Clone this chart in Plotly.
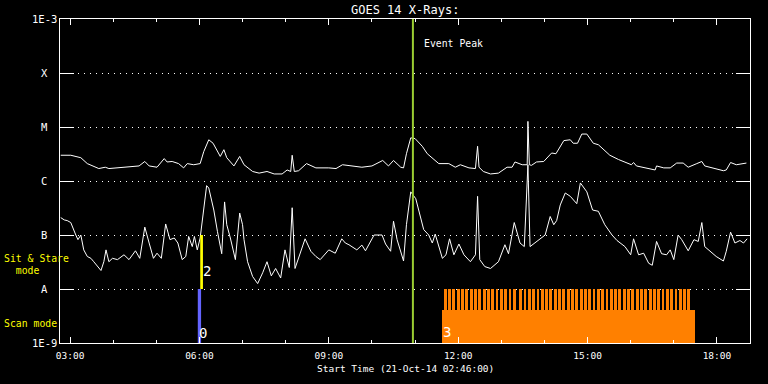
import math
import plotly.graph_objects as go
import pandas as pd

DAY = "2014-10-21"
START = "02:46"
END = "18:46"

# GOES long channel (1-8 A), W/m^2
upper_times = ["02:47","03:01","03:15","03:24","03:40","03:49","03:54","04:15","04:36","04:44","04:50","05:01","05:11","05:15","05:22","05:31","05:38","05:43","05:52","06:01","06:06","06:13","06:19","06:29","06:34","06:38","06:43","06:48","06:56","07:02","07:14","07:23","07:34","07:44","07:55","08:02","08:07","08:09","08:12","08:18","08:29","08:42","09:00","09:10","09:19","09:30","09:46","10:00","10:15","10:23","10:30","10:40","10:44","10:48","10:54","11:00","11:10","11:17","11:24","11:33","11:47","11:56","12:03","12:15","12:24","12:27","12:29","12:35","12:45","12:56","13:08","13:15","13:19","13:29","13:36","13:37","13:39","13:42","13:49","13:59","14:10","14:16","14:27","14:36","14:40","14:46","14:52","14:59","15:08","15:15","15:31","15:43","16:01","16:04","16:08","16:25","16:34","16:36","16:46","16:55","17:04","17:13","17:20","17:32","17:39","17:43","17:57","18:09","18:13","18:19","18:27","18:41"]
upper_flux = [3.0e-6,3.0e-6,2.7e-6,2.1e-6,1.7e-6,1.8e-6,1.7e-6,1.8e-6,1.9e-6,2.3e-6,1.9e-6,1.8e-6,2.6e-6,2.25e-6,2.3e-6,2.1e-6,1.75e-6,2.1e-6,2.0e-6,2.1e-6,3.5e-6,5.8e-6,5.0e-6,2.85e-6,3.8e-6,2.7e-6,2.3e-6,1.9e-6,2.85e-6,2.0e-6,1.5e-6,1.4e-6,1.5e-6,1.35e-6,1.35e-6,1.6e-6,1.5e-6,3.0e-6,1.5e-6,1.55e-6,2.1e-6,1.75e-6,1.75e-6,1.7e-6,2.0e-6,1.9e-6,1.8e-6,1.9e-6,2.4e-6,1.9e-6,2.4e-6,1.8e-6,1.75e-6,3.2e-6,6.3e-6,6.1e-6,4.4e-6,3.2e-6,2.7e-6,2.1e-6,2.1e-6,1.8e-6,2.0e-6,1.75e-6,1.7e-6,4.4e-6,1.8e-6,1.5e-6,1.35e-6,1.4e-6,1.8e-6,1.8e-6,2.25e-6,2.0e-6,2.0e-6,1.27e-5,2.0e-6,1.95e-6,2.25e-6,2.3e-6,3.3e-6,3.2e-6,5.6e-6,5.8e-6,5.0e-6,5.0e-6,7.4e-6,7.4e-6,5.0e-6,4.7e-6,3.0e-6,2.5e-6,2.0e-6,2.2e-6,1.9e-6,1.7e-6,1.6e-6,1.9e-6,1.75e-6,1.75e-6,2.15e-6,2.15e-6,1.8e-6,2.1e-6,2.3e-6,1.9e-6,1.7e-6,1.55e-6,1.6e-6,2.2e-6,2.0e-6,2.15e-6]

# GOES short channel (0.5-4 A), W/m^2
lower_times = ["02:47","02:52","02:56","03:01","03:08","03:11","03:15","03:19","03:24","03:29","03:33","03:38","03:43","03:47","03:50","03:54","03:59","04:06","04:15","04:22","04:31","04:37","04:44","04:50","04:56","05:01","05:07","05:13","05:19","05:25","05:30","05:36","05:41","05:45","05:50","05:53","05:57","06:01","06:04","06:10","06:13","06:20","06:25","06:31","06:35","06:38","06:43","06:50","06:56","07:00","07:02","07:07","07:14","07:21","07:28","07:34","07:40","07:46","07:53","07:59","08:05","08:09","08:13","08:27","08:35","08:42","08:48","09:00","09:09","09:18","09:23","09:28","09:39","09:46","09:51","10:03","10:14","10:19","10:26","10:30","10:35","10:40","10:44","10:48","10:54","11:01","11:07","11:12","11:19","11:24","11:28","11:38","11:43","11:48","11:54","12:01","12:08","12:17","12:24","12:27","12:30","12:37","12:45","12:56","13:05","13:10","13:18","13:26","13:32","13:37","13:40","13:47","14:01","14:08","14:13","14:17","14:22","14:29","14:36","14:45","14:50","14:59","15:07","15:15","15:24","15:34","15:41","15:52","16:00","16:04","16:11","16:18","16:25","16:30","16:36","16:43","16:50","16:55","17:00","17:06","17:11","17:20","17:28","17:34","17:39","17:43","17:50","17:59","18:09","18:13","18:19","18:25","18:32","18:37","18:42"]
lower_flux = [2.1e-7,1.9e-7,1.85e-7,1.7e-7,1.0e-7,8.2e-8,1.0e-7,5.3e-8,4.0e-8,3.7e-8,3.2e-8,2.6e-8,2.2e-8,3.2e-8,5.3e-8,3.2e-8,3.7e-8,3.5e-8,4.3e-8,3.5e-8,5.1e-8,3.7e-8,1.4e-7,7.1e-8,3.7e-8,4.6e-8,3.7e-8,1.6e-7,8.2e-8,8.8e-8,7.1e-8,3.5e-8,4.0e-8,9.4e-8,6.1e-8,9.4e-8,5.3e-8,8.8e-8,1.9e-7,8.2e-7,7.4e-7,2.9e-7,1.17e-7,4.5e-8,4.1e-7,1.55e-7,8.8e-8,3.5e-8,2.55e-7,1.55e-7,8.2e-8,3.2e-8,1.7e-8,1.26e-8,2.0e-8,3.2e-8,1.75e-8,2.4e-8,1.6e-8,5.3e-8,2.5e-8,3.2e-7,2.4e-8,8.5e-8,5.0e-8,4.0e-8,3.5e-8,5.3e-8,4.6e-8,8.5e-8,7.1e-8,6.6e-8,5.3e-8,6.5e-8,5.1e-8,1.0e-7,1.0e-7,6.8e-8,5.0e-8,1.8e-7,8.2e-8,4.7e-8,3.3e-8,1.55e-7,6.3e-7,4.7e-7,2.4e-7,1.26e-7,1.0e-7,7.1e-8,1.04e-7,3.7e-8,4.3e-8,8.5e-8,4.3e-8,6.8e-8,4.3e-8,3.2e-8,4.3e-8,5.2e-7,3.5e-8,2.6e-8,2.4e-8,3.2e-8,6.6e-8,4.5e-8,1.7e-7,7.1e-8,6.1e-8,2.0e-6,6.1e-8,7.1e-8,1.0e-7,2.2e-7,1.55e-7,1.85e-7,3.6e-7,6.0e-7,5.2e-7,3.8e-7,9.2e-7,6.3e-7,2.9e-7,2.75e-7,1.55e-7,1.0e-7,7.9e-8,6.1e-8,4.3e-8,8.5e-8,4.3e-8,4.6e-8,3.0e-8,2.75e-8,7.6e-8,4.5e-8,4.3e-8,5.3e-8,3.5e-8,1.0e-7,8.2e-8,5.1e-8,8.2e-8,7.6e-8,1.7e-7,6.1e-8,5.0e-8,4.0e-8,3.3e-8,5.0e-8,1.13e-7,7.1e-8,7.9e-8,7.1e-8,8.5e-8]

assert len(upper_times) == len(upper_flux), (len(upper_times), len(upper_flux))
assert len(lower_times) == len(lower_flux), (len(lower_times), len(lower_flux))

# Event / observing-mode markers
event_peak_time = "10:57"
sit_stare_time = "06:03"   # mode 2
scan_time = "06:00"        # mode 0

# Scan-mode (3) coverage blocks and raster steps
scan_block_start = ["11:38", "13:25"]
scan_block_end = ["13:24", "17:30"]
scan_block_top = 4.1e-9
spike_times = ["11:42","11:48","11:54","12:00","12:06","12:12","12:18","12:24","12:30","12:36","12:42","12:48","12:54","13:00","13:06","13:12","13:18",
               "13:27","13:33","13:39","13:45","13:51","13:57","14:03","14:09","14:15","14:21","14:27","14:33","14:39","14:45","14:51","14:57",
               "15:03","15:09","15:15","15:21","15:27","15:33","15:39","15:45","15:51","15:57","16:03","16:09","16:15","16:21","16:27","16:33",
               "16:39","16:45","16:51","16:57","17:03","17:09","17:15","17:21"]
spike_top = 1e-8

# Axis labels
y_tick_vals = [1e-3, 1e-4, 1e-5, 1e-6, 1e-7, 1e-8, 1e-9]
y_tick_text = ["1E-3", "X", "M", "C", "B", "A", "1E-9"]
YMIN, YMAX = 1e-9, 1e-3


def ts(hhmm):
    return pd.Timestamp(f"{DAY} {hhmm}")


def ly(v):
    # annotation positions on a log axis are given in log10 units
    return math.log10(v)


MONO = "DejaVu Sans Mono"
ORANGE = "#ff8000"

fig = go.Figure()

# Scan-mode blocks
bs = [ts(s) for s in scan_block_start]
be = [ts(e) for e in scan_block_end]
fig.add_trace(go.Bar(
    x=[s + (e - s) / 2 for s, e in zip(bs, be)],
    y=[scan_block_top - YMIN] * len(bs),
    base=[YMIN] * len(bs),
    width=[(e - s).total_seconds() * 1000 for s, e in zip(bs, be)],
    marker=dict(color=ORANGE, line=dict(width=0)),
    showlegend=False, hoverinfo="skip"))

# Raster steps
fig.add_trace(go.Bar(
    x=[ts(t) for t in spike_times],
    y=[spike_top - YMIN] * len(spike_times),
    base=[YMIN] * len(spike_times),
    width=[4.0 * 60 * 1000] * len(spike_times),
    marker=dict(color=ORANGE, line=dict(width=0)),
    showlegend=False, hoverinfo="skip"))

# Curves
fig.add_trace(go.Scatter(x=[ts(t) for t in upper_times], y=upper_flux, mode="lines",
                         line=dict(color="white", width=1), showlegend=False))
fig.add_trace(go.Scatter(x=[ts(t) for t in lower_times], y=lower_flux, mode="lines",
                         line=dict(color="white", width=1), showlegend=False))

# Mode markers
fig.add_trace(go.Scatter(x=[ts(scan_time)] * 2, y=[1e-9, 1e-8], mode="lines",
                         line=dict(color="#6464ff", width=3.3), showlegend=False))
fig.add_trace(go.Scatter(x=[ts(sit_stare_time)] * 2, y=[1e-8, 1e-7], mode="lines",
                         line=dict(color="#ffff00", width=2.7), showlegend=False))
# Event peak
fig.add_trace(go.Scatter(x=[ts(event_peak_time)] * 2, y=[YMIN, YMAX], mode="lines",
                         line=dict(color="#9acd32", width=2), showlegend=False))

ann = []
for v, t in zip(y_tick_vals, y_tick_text):
    ann.append(dict(x=0, xref="paper", xshift=-16, y=ly(v), yref="y", text=t, showarrow=False,
                    xanchor="center", yanchor="middle", font=dict(family=MONO, size=10.5, color="white")))

ann += [
    dict(x=0.5, xref="paper", y=1, yref="paper", yshift=9.5, text="GOES 14 X-Rays:", showarrow=False,
         xanchor="center", yanchor="middle", font=dict(family=MONO, size=12, color="white")),
    dict(x=0.5, xref="paper", y=0, yref="paper", yshift=-25, text="Start Time (21-Oct-14 02:46:00)",
         showarrow=False, xanchor="center", yanchor="middle", font=dict(family=MONO, size=9.5, color="white")),
    dict(x=ts(event_peak_time), xref="x", xshift=9, y=ly(YMAX), yref="y", yshift=-24, text="Event Peak",
         showarrow=False, xanchor="left", yanchor="middle", font=dict(family=MONO, size=9.8, color="white")),
    dict(x=0, xref="paper", xshift=-58, y=ly(1e-7), yref="y", yshift=-23.5, text="Sit & Stare", showarrow=False,
         xanchor="left", yanchor="middle", font=dict(family=MONO, size=9.8, color="#ffff00")),
    dict(x=0, xref="paper", xshift=-58, y=ly(1e-7), yref="y", yshift=-35.5, text="  mode", showarrow=False,
         xanchor="left", yanchor="middle", font=dict(family=MONO, size=9.8, color="#ffff00")),
    dict(x=0, xref="paper", xshift=-58, y=ly(1e-8), yref="y", yshift=-34.5, text="Scan mode", showarrow=False,
         xanchor="left", yanchor="middle", font=dict(family=MONO, size=9.8, color="#ffff00")),
    dict(x=ts(sit_stare_time), xref="x", xshift=5.7, y=ly(1e-8), yref="y", yshift=17.8, text="2", showarrow=False,
         xanchor="center", yanchor="middle", font=dict(family=MONO, size=14, color="white")),
    dict(x=ts(scan_time), xref="x", xshift=4, y=ly(1e-9), yref="y", yshift=10.3, text="0", showarrow=False,
         xanchor="center", yanchor="middle", font=dict(family=MONO, size=14, color="white")),
    dict(x=ts(scan_block_start[0]), xref="x", xshift=4.5, y=ly(1e-9), yref="y", yshift=10.8, text="3",
         showarrow=False, xanchor="center", yanchor="middle", font=dict(family=MONO, size=14, color="white")),
]

fig.update_layout(
    width=768, height=384,
    margin=dict(l=60, r=18, t=19, b=41, pad=0),
    paper_bgcolor="black", plot_bgcolor="black",
    barmode="overlay", bargap=0,
    showlegend=False,
    annotations=ann,
    xaxis=dict(
        type="date", range=[ts(START), ts(END)],
        tick0=ts("03:00"), dtick=3 * 3600 * 1000, tickformat="%H:%M",
        ticks="inside", ticklen=6, tickwidth=1, tickcolor="white",
        minor=dict(dtick=3600 * 1000, ticks="inside", ticklen=3, tickwidth=1, tickcolor="white", showgrid=False),
        showline=True, linecolor="white", linewidth=1, mirror="ticks",
        showgrid=False, zeroline=False,
        tickfont=dict(family=MONO, size=9.5, color="white"),
        ticklabelstandoff=4,
    ),
    yaxis=dict(
        type="log", range=[-9, -3],
        tickvals=y_tick_vals, showticklabels=False,
        ticks="inside", ticklen=14, tickwidth=1, tickcolor="white",
        showline=True, linecolor="white", linewidth=1, mirror="ticks",
        showgrid=True, gridcolor="white", gridwidth=1, griddash="1px,5px",
        zeroline=False,
    ),
)

fig.write_html("out.html")
